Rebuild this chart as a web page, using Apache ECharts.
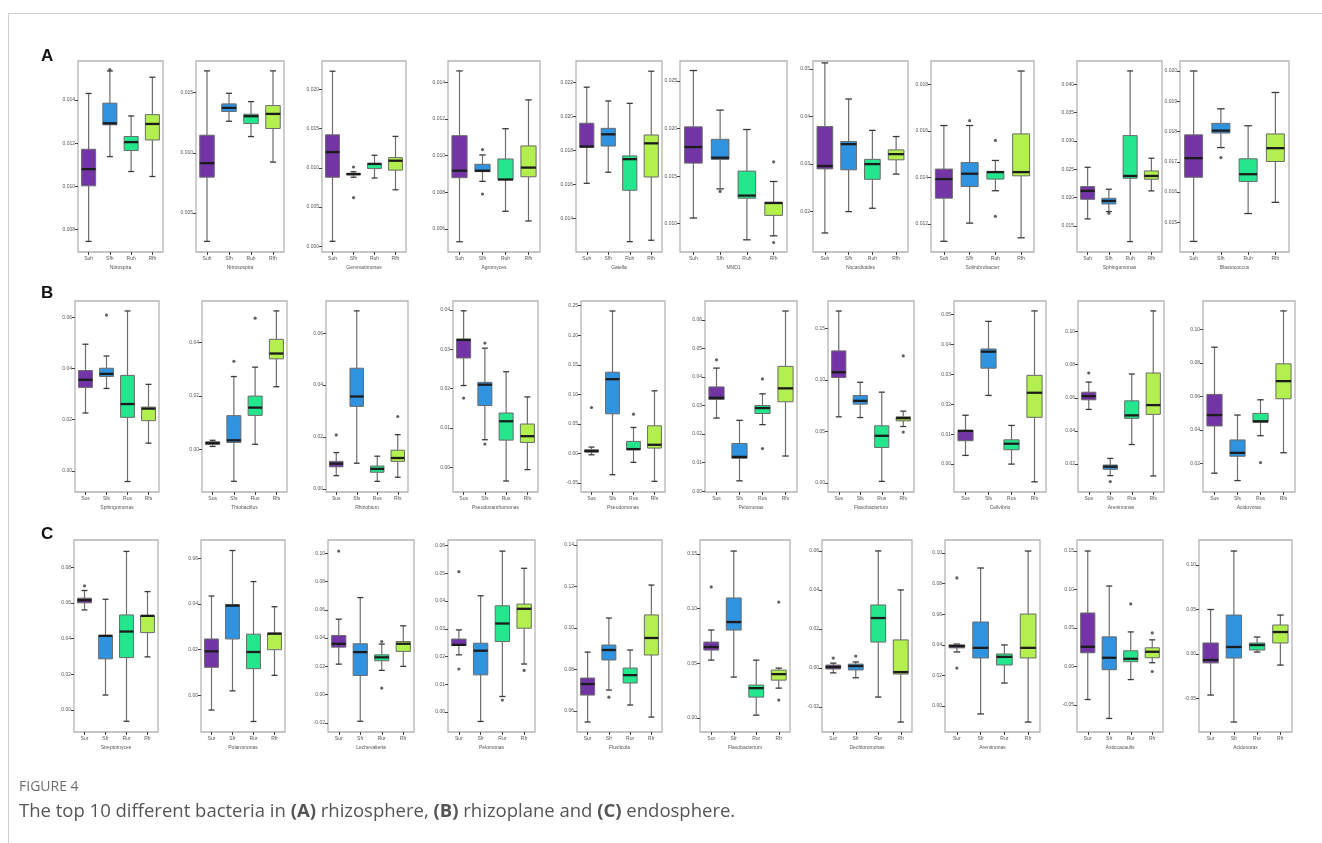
<!DOCTYPE html>
<html>
<head>
<meta charset="utf-8">
<script src="https://cdn.jsdelivr.net/npm/echarts@6/dist/echarts.min.js"></script>
<style>
  html, body { margin: 0; padding: 0; background: #fff; }
  #chart { width: 1322px; height: 843px; }
</style>
</head>
<body>
<div id="chart"></div>
<script>
// ---------- data ----------
const groupsA = ['Suh', 'Sfh', 'Ruh', 'Rfh'];
const groupsB = ['Sus', 'Sfs', 'Rus', 'Rfs'];
const groupsC = ['Sur', 'Sfr', 'Rur', 'Rfr'];

const genusA = ['Nitrospira', 'Nitrosospira', 'Gemmatimonas', 'Agromyces', 'Gaiella', 'MND1', 'Nocardioides', 'Solirubrobacter', 'Sphingomonas', 'Blastococcus'];
const genusB = ['Sphingomonas', 'Thiobacillus', 'Rhizobium', 'Pseudoxanthomonas', 'Pseudomonas', 'Pelomonas', 'Flavobacterium', 'Cellvibrio', 'Arenimonas', 'Acidovorax'];
const genusC = ['Streptomyces', 'Polaromonas', 'Lechevalieria', 'Pelomonas', 'Fluviicola', 'Flavobacterium', 'Dechloromonas', 'Arenimonas', 'Asticcacaulis', 'Acidovorax'];

// y tick labels per panel
const ticksA = [
  ['0.008', '0.010', '0.012', '0.014'],
  ['0.005', '0.010', '0.015'],
  ['0.000', '0.005', '0.010', '0.015', '0.020'],
  ['0.006', '0.008', '0.010', '0.012', '0.014'],
  ['0.014', '0.016', '0.018', '0.020', '0.022'],
  ['0.010', '0.015', '0.020', '0.025'],
  ['0.02', '0.03', '0.04', '0.05'],
  ['0.012', '0.014', '0.016', '0.018'],
  ['0.015', '0.020', '0.025', '0.030', '0.035', '0.040'],
  ['0.015', '0.016', '0.017', '0.018', '0.019', '0.020']
];
const ticksB = [
  ['0.00', '0.02', '0.04', '0.06'],
  ['0.00', '0.02', '0.04'],
  ['0.00', '0.02', '0.04', '0.06'],
  ['0.00', '0.01', '0.02', '0.03', '0.04'],
  ['-0.05', '0.00', '0.05', '0.10', '0.15', '0.20', '0.25'],
  ['0.00', '0.01', '0.02', '0.03', '0.04', '0.05', '0.06'],
  ['0.00', '0.05', '0.10', '0.15'],
  ['0.00', '0.01', '0.02', '0.03', '0.04', '0.05'],
  ['0.02', '0.04', '0.06', '0.08', '0.10'],
  ['0.02', '0.04', '0.06', '0.08', '0.10']
];
const ticksC = [
  ['0.00', '0.02', '0.04', '0.06', '0.08'],
  ['0.00', '0.02', '0.04', '0.06'],
  ['-0.02', '0.00', '0.02', '0.04', '0.06', '0.08', '0.10'],
  ['0.00', '0.01', '0.02', '0.03', '0.04', '0.05', '0.06'],
  ['0.06', '0.08', '0.10', '0.12', '0.14'],
  ['0.00', '0.05', '0.10', '0.15'],
  ['-0.02', '0.00', '0.02', '0.04', '0.06'],
  ['0.00', '0.02', '0.04', '0.06', '0.08', '0.10'],
  ['-0.05', '0.00', '0.05', '0.10', '0.15'],
  ['-0.05', '0.00', '0.05', '0.10']
];

// value range shown by each panel frame [min, max]
const rangeA = [[0.00697, 0.0158], [0.00177, 0.01762], [-0.00072, 0.0236], [0.00475, 0.01516], [0.01204, 0.02327],
                [0.00703, 0.0271], [0.0115, 0.0517], [0.0108, 0.0190], [0.0104, 0.0441], [0.01402, 0.02033]];
const rangeB = [[-0.0083, 0.0664], [-0.0158, 0.0555], [-0.0012, 0.0724], [-0.0063, 0.0423], [-0.0653, 0.2579],
                [-0.0003, 0.0666], [-0.0087, 0.1765], [-0.0093, 0.0544], [0.0031, 0.1185], [0.0031, 0.1168]];
const rangeC = [[-0.0123, 0.0953], [-0.016, 0.068], [-0.0264, 0.1094], [-0.0072, 0.062], [0.0499, 0.1424],
                [-0.0127, 0.1628], [-0.0328, 0.0656], [-0.017, 0.1085], [-0.0851, 0.1643], [-0.0876, 0.1281]];

// box values per group: [lower whisker, Q1, median, Q3, upper whisker]
const boxesA = [
  [[0.00746, 0.01003, 0.0108, 0.01172, 0.0143], [0.01138, 0.01285, 0.01292, 0.01385, 0.01534], [0.01069, 0.01166, 0.01205, 0.01231, 0.01326], [0.01046, 0.01215, 0.01289, 0.01332, 0.01505]],
  [[0.00265, 0.00798, 0.00914, 0.01146, 0.0168], [0.01262, 0.01343, 0.01373, 0.01406, 0.01494], [0.01135, 0.01243, 0.01304, 0.0132, 0.01425], [0.00923, 0.01202, 0.01323, 0.01392, 0.0168]],
  [[0.00064, 0.0088, 0.012, 0.0142, 0.0223], [0.0088, 0.0091, 0.0092, 0.0093, 0.0095], [0.0087, 0.0099, 0.0105, 0.01055, 0.0116], [0.0072, 0.0097, 0.0109, 0.0113, 0.014]],
  [[0.00531, 0.0088, 0.00918, 0.01109, 0.01462], [0.0086, 0.00913, 0.00918, 0.00953, 0.01004], [0.00697, 0.0087, 0.0087, 0.00982, 0.01147], [0.00644, 0.00885, 0.00935, 0.01053, 0.01304]],
  [[0.01608, 0.0182, 0.01824, 0.01961, 0.02173], [0.01673, 0.01827, 0.01896, 0.01931, 0.02092], [0.01265, 0.01567, 0.0175, 0.01769, 0.02078], [0.01273, 0.01645, 0.01843, 0.01892, 0.02267]],
  [[0.0106, 0.01637, 0.01806, 0.02018, 0.0261], [0.01366, 0.01676, 0.01694, 0.01887, 0.02194], [0.00831, 0.01268, 0.01296, 0.01553, 0.0199], [0.00873, 0.01088, 0.01218, 0.01225, 0.01444]],
  [[0.0155, 0.029, 0.0296, 0.0379, 0.0513], [0.02, 0.0288, 0.0342, 0.03476, 0.0437], [0.0207, 0.0268, 0.03, 0.031, 0.0371], [0.0279, 0.0309, 0.0321, 0.033, 0.0358]],
  [[0.01126, 0.01311, 0.01393, 0.01436, 0.01623], [0.01204, 0.01361, 0.01416, 0.01464, 0.01623], [0.01343, 0.01393, 0.01423, 0.01426, 0.01473], [0.01141, 0.01407, 0.01423, 0.01587, 0.01857]],
  [[0.01624, 0.0197, 0.02118, 0.02194, 0.02535], [0.01753, 0.01888, 0.01941, 0.01988, 0.02147], [0.01224, 0.02341, 0.02382, 0.03094, 0.04235], [0.02118, 0.02324, 0.02382, 0.0247, 0.02694]],
  [[0.01437, 0.01649, 0.01712, 0.01789, 0.0200], [0.01747, 0.01795, 0.01803, 0.01827, 0.01875], [0.01529, 0.01635, 0.01659, 0.0171, 0.01819], [0.01566, 0.01701, 0.01745, 0.01792, 0.01929]]
];
const boxesB = [
  [[0.0226, 0.0326, 0.0356, 0.0392, 0.0495], [0.0322, 0.0369, 0.0379, 0.0401, 0.0449], [-0.0042, 0.0209, 0.0261, 0.0373, 0.0625], [0.0108, 0.0196, 0.0243, 0.0249, 0.0338]],
  [[0.0012, 0.0019, 0.0025, 0.0029, 0.0035], [-0.0118, 0.0027, 0.0035, 0.0127, 0.0273], [0.002, 0.0128, 0.0157, 0.02, 0.0308], [0.0235, 0.0339, 0.0359, 0.0412, 0.0518]],
  [[0.0051, 0.0085, 0.0097, 0.0106, 0.014], [0.0099, 0.0318, 0.0356, 0.0465, 0.0686], [0.0029, 0.0064, 0.0077, 0.0088, 0.0126], [0.0045, 0.0106, 0.0119, 0.0149, 0.0209]],
  [[0.0208, 0.0278, 0.0324, 0.0326, 0.0398], [0.007, 0.0157, 0.021, 0.0216, 0.0303], [-0.0035, 0.0069, 0.0117, 0.0138, 0.0243], [-0.0006, 0.0063, 0.0079, 0.011, 0.0179]],
  [[-0.0023, 0.0023, 0.0039, 0.0062, 0.0107], [-0.036, 0.067, 0.1256, 0.1374, 0.241], [-0.0152, 0.0062, 0.0073, 0.0203, 0.0439], [-0.0473, 0.009, 0.0146, 0.0467, 0.1059]],
  [[0.0256, 0.0321, 0.0327, 0.0365, 0.0431], [0.0036, 0.0115, 0.012, 0.0167, 0.0248], [0.0233, 0.0272, 0.0291, 0.03, 0.0341], [0.0123, 0.0313, 0.036, 0.0437, 0.0631]],
  [[0.0642, 0.1023, 0.1074, 0.1281, 0.1668], [0.0635, 0.0765, 0.0797, 0.0848, 0.0977], [0.0016, 0.0345, 0.0458, 0.0555, 0.0881], [0.0548, 0.0603, 0.0629, 0.0642, 0.0697]],
  [[0.0029, 0.0078, 0.0111, 0.0112, 0.0163], [0.0229, 0.032, 0.0375, 0.0384, 0.0476], [0.0, 0.0048, 0.0068, 0.0081, 0.0129], [-0.0059, 0.0156, 0.0238, 0.0296, 0.0511]],
  [[0.053, 0.0588, 0.061, 0.0634, 0.0695], [0.013, 0.0168, 0.0184, 0.0194, 0.0234], [0.0318, 0.0476, 0.0494, 0.0582, 0.0744], [0.0128, 0.05, 0.0556, 0.075, 0.1125]],
  [[0.0143, 0.0424, 0.0489, 0.0612, 0.0893], [0.0099, 0.0244, 0.0264, 0.0341, 0.0489], [0.0366, 0.0446, 0.0452, 0.0499, 0.058], [0.0265, 0.0586, 0.0691, 0.0794, 0.1109]]
];
const boxesC = [
  [[0.0561, 0.0601, 0.0616, 0.0627, 0.067], [0.0084, 0.0287, 0.0416, 0.0416, 0.0621], [-0.0063, 0.0294, 0.044, 0.0533, 0.0889], [0.0298, 0.0434, 0.0528, 0.0528, 0.0664]],
  [[-0.0064, 0.0123, 0.0193, 0.0247, 0.0435], [0.002, 0.0247, 0.0393, 0.0397, 0.0634], [-0.0114, 0.0117, 0.019, 0.0268, 0.0498], [0.0088, 0.02, 0.027, 0.0273, 0.0388]],
  [[0.0216, 0.0336, 0.036, 0.0419, 0.0534], [-0.0188, 0.0136, 0.0301, 0.036, 0.0687], [0.0172, 0.024, 0.0264, 0.0282, 0.0358], [0.02, 0.0306, 0.036, 0.0376, 0.0487]],
  [[0.0206, 0.024, 0.0242, 0.0263, 0.0296], [-0.0034, 0.0134, 0.0221, 0.0248, 0.0419], [0.0056, 0.0254, 0.0319, 0.0383, 0.058], [0.0173, 0.0302, 0.0372, 0.0389, 0.0518]],
  [[0.0547, 0.0677, 0.073, 0.0759, 0.0884], [0.0701, 0.0846, 0.0894, 0.0918, 0.1048], [0.0629, 0.0735, 0.0773, 0.0807, 0.0894], [0.0571, 0.087, 0.0952, 0.1063, 0.1207]],
  [[0.053, 0.0622, 0.065, 0.0695, 0.0805], [0.0375, 0.0805, 0.0878, 0.1098, 0.1527], [0.0027, 0.0192, 0.0274, 0.0302, 0.053], [0.0274, 0.0347, 0.0402, 0.0439, 0.0457]],
  [[-0.0025, -0.0005, 0.0005, 0.0015, 0.0025], [-0.005, -0.001, 0.001, 0.002, 0.0031], [-0.0149, 0.0133, 0.0256, 0.0323, 0.06], [-0.0277, -0.0031, -0.0021, 0.0144, 0.04]],
  [[0.0353, 0.038, 0.0392, 0.0399, 0.0405], [-0.0052, 0.0314, 0.038, 0.0549, 0.0902], [0.015, 0.0268, 0.0321, 0.034, 0.0399], [-0.0105, 0.0314, 0.038, 0.0601, 0.1013]],
  [[-0.0429, 0.0178, 0.0256, 0.0695, 0.15], [-0.0675, -0.0042, 0.0113, 0.0385, 0.1045], [-0.017, 0.0062, 0.01, 0.0204, 0.0449], [0.0049, 0.0113, 0.0191, 0.0243, 0.0346]],
  [[-0.0461, -0.01, -0.0067, 0.0124, 0.05], [-0.0764, -0.0045, 0.0079, 0.0438, 0.1157], [0.0022, 0.0045, 0.0101, 0.0124, 0.0191], [-0.0124, 0.0124, 0.0247, 0.0326, 0.0438]]
];

// outliers per panel: [group index, value]
const outliersA = [
  [[1, 0.0154]], [], [[1, 0.0101], [1, 0.0062]], [[1, 0.01033], [1, 0.00791]], [],
  [[1, 0.0134], [3, 0.01651], [3, 0.00803]], [], [[1, 0.01644], [2, 0.01559], [2, 0.01233]], [[1, 0.01724]], [[1, 0.01714]]
];
const outliersB = [
  [[1, 0.0609]], [[1, 0.033], [2, 0.0491]], [[0, 0.0208], [3, 0.0279]], [[0, 0.0176], [1, 0.0316], [1, 0.0059]], [[0, 0.0777], [2, 0.0664]],
  [[0, 0.046], [2, 0.0393], [2, 0.0149]], [[3, 0.1232], [3, 0.0494]], [], [[0, 0.075], [1, 0.0094]], [[2, 0.0206]]
];
const outliersC = [
  [[0, 0.0696]], [], [[0, 0.1016], [2, 0.0376], [2, 0.0047]], [[0, 0.0506], [0, 0.0155], [2, 0.0043], [3, 0.015]], [[1, 0.0667]],
  [[0, 0.1199], [3, 0.1061], [3, 0.0165]], [[0, 0.0051], [1, 0.0061]], [[0, 0.0837], [0, 0.0248]], [[2, 0.0812], [3, 0.0436], [3, -0.0065]], []
];

// ---------- layout & style ----------
const groupColors = ['#7335a6', '#2f93e0', '#24e68d', '#b3f04f'];
const rowTop = [61, 301, 540];
const rowHeight = [191, 191, 192];
const frameX = [
  [[78, 163], [196, 284], [322, 406], [448, 540], [576, 662], [680, 787], [813, 908], [931, 1034], [1077, 1162], [1180, 1289]],
  [[75, 159], [202, 287], [326, 408], [453, 538], [581, 665], [705, 797], [828, 914], [954, 1046], [1078, 1164], [1203, 1295]],
  [[74, 158], [201, 285], [328, 414], [448, 535], [577, 662], [700, 790], [822, 912], [945, 1040], [1077, 1163], [1199, 1292]]
];

const rows = [
  { groups: groupsA, genus: genusA, ticks: ticksA, range: rangeA, boxes: boxesA, outliers: outliersA },
  { groups: groupsB, genus: genusB, ticks: ticksB, range: rangeB, boxes: boxesB, outliers: outliersB },
  { groups: groupsC, genus: genusC, ticks: ticksC, range: rangeC, boxes: boxesC, outliers: outliersC }
];

const smallFont = { fontSize: 5, color: '#555', fontFamily: 'Liberation Sans, Arial, sans-serif' };

function renderBox(params, api) {
  const j = api.value(0);
  const lo = api.value(1), q1 = api.value(2), md = api.value(3), q3 = api.value(4), hi = api.value(5);
  const cx = api.coord([j, md])[0];
  const band = api.size([1, 0])[0];
  const half = band * 0.33;
  const cap = band * 0.14;
  const Y = v => api.coord([j, v])[1];
  const yLo = Y(lo), yQ1 = Y(q1), yMd = Y(md), yQ3 = Y(q3), yHi = Y(hi);
  const whisk = { stroke: '#6e6e6e', lineWidth: 1.2 };
  const capStyle = { stroke: '#3a3a3a', lineWidth: 1.3 };
  return {
    type: 'group',
    children: [
      { type: 'line', shape: { x1: cx, y1: yHi, x2: cx, y2: yQ3 }, style: whisk },
      { type: 'line', shape: { x1: cx, y1: yQ1, x2: cx, y2: yLo }, style: whisk },
      { type: 'line', shape: { x1: cx - cap, y1: yHi, x2: cx + cap, y2: yHi }, style: capStyle },
      { type: 'line', shape: { x1: cx - cap, y1: yLo, x2: cx + cap, y2: yLo }, style: capStyle },
      { type: 'rect', shape: { x: cx - half, y: yQ3, width: 2 * half, height: Math.max(yQ1 - yQ3, 1) },
        style: { fill: groupColors[j], stroke: '#6a6a6a', lineWidth: 1 } },
      { type: 'line', shape: { x1: cx - half, y1: yMd, x2: cx + half, y2: yMd }, style: { stroke: '#1c1c1c', lineWidth: 2.3 } }
    ]
  };
}

const grids = [], xAxes = [], yAxes = [], series = [];
rows.forEach((row, r) => {
  row.genus.forEach((name, p) => {
    const k = grids.length;
    const [L, R] = frameX[r][p];
    grids.push({
      left: L, top: rowTop[r], width: R - L, height: rowHeight[r],
      show: true, borderColor: '#b4b4b4', borderWidth: 1.3, backgroundColor: '#fff'
    });
    xAxes.push({
      type: 'category', gridIndex: k, data: row.groups, position: 'bottom',
      axisLine: { show: false, onZero: false },
      axisTick: { show: true, alignWithLabel: true, length: 3, lineStyle: { color: '#444', width: 1 } },
      axisLabel: Object.assign({ margin: 4, interval: 0 }, smallFont),
      name: name, nameLocation: 'middle', nameGap: 13,
      nameTextStyle: Object.assign({}, smallFont)
    });
    const tickVals = row.ticks[p].map(Number);
    const tickText = row.ticks[p];
    yAxes.push({
      type: 'value', gridIndex: k,
      min: row.range[p][0], max: row.range[p][1],
      axisLine: { show: false, onZero: false },
      splitLine: { show: false },
      axisTick: { show: true, length: 3, customValues: tickVals, lineStyle: { color: '#444', width: 1 } },
      axisLabel: Object.assign({
        margin: 3, customValues: tickVals,
        formatter: v => {
          const i = tickVals.findIndex(t => Math.abs(t - v) < 1e-9);
          return i >= 0 ? tickText[i] : '';
        }
      }, smallFont)
    });
    series.push({
      type: 'custom', xAxisIndex: k, yAxisIndex: k,
      renderItem: renderBox,
      encode: { x: 0, y: [1, 2, 3, 4, 5] },
      data: row.boxes[p].map((b, j) => [j, ...b]),
      z: 2, silent: true
    });
    if (row.outliers[p].length) {
      series.push({
        type: 'scatter', xAxisIndex: k, yAxisIndex: k,
        data: row.outliers[p].map(o => [row.groups[o[0]], o[1]]),
        symbol: 'circle', symbolSize: 3.2,
        itemStyle: { color: '#3a3a3a' },
        z: 3, silent: true
      });
    }
  });
});

const letterStyle = { fontSize: 17, fontWeight: 'bold', fill: '#111', fontFamily: 'Liberation Sans, Arial, sans-serif' };
const captionFont = 'Open Sans, Noto Sans, sans-serif';

const option = {
  animation: false,
  backgroundColor: '#fff',
  grid: grids,
  xAxis: xAxes,
  yAxis: yAxes,
  series: series,
  graphic: [
    { type: 'line', shape: { x1: 8, y1: 13.5, x2: 1322, y2: 13.5 }, style: { stroke: '#d0d0d0', lineWidth: 1 } },
    { type: 'line', shape: { x1: 8.5, y1: 13, x2: 8.5, y2: 843 }, style: { stroke: '#d0d0d0', lineWidth: 1 } },
    { type: 'text', left: 41, top: 48, style: Object.assign({ text: 'A' }, letterStyle) },
    { type: 'text', left: 41, top: 285, style: Object.assign({ text: 'B' }, letterStyle) },
    { type: 'text', left: 41, top: 526, style: Object.assign({ text: 'C' }, letterStyle) },
    { type: 'text', left: 19, top: 780, style: { text: 'FIGURE 4', fontSize: 14, fill: '#6d6d6d', fontFamily: captionFont } },
    {
      type: 'text', left: 19, top: 802,
      style: {
        text: '{n|The top 10 different bacteria in }{b|(A)}{n| rhizosphere, }{b|(B)}{n| rhizoplane and }{b|(C)}{n| endosphere.}',
        rich: {
          n: { fontSize: 18.5, fill: '#555', fontFamily: captionFont },
          b: { fontSize: 18.5, fill: '#555', fontWeight: 'bold', fontFamily: captionFont }
        }
      }
    }
  ]
};

const chart = echarts.init(document.getElementById('chart'), null, { renderer: 'canvas' });
chart.setOption(option);
</script>
</body>
</html>
